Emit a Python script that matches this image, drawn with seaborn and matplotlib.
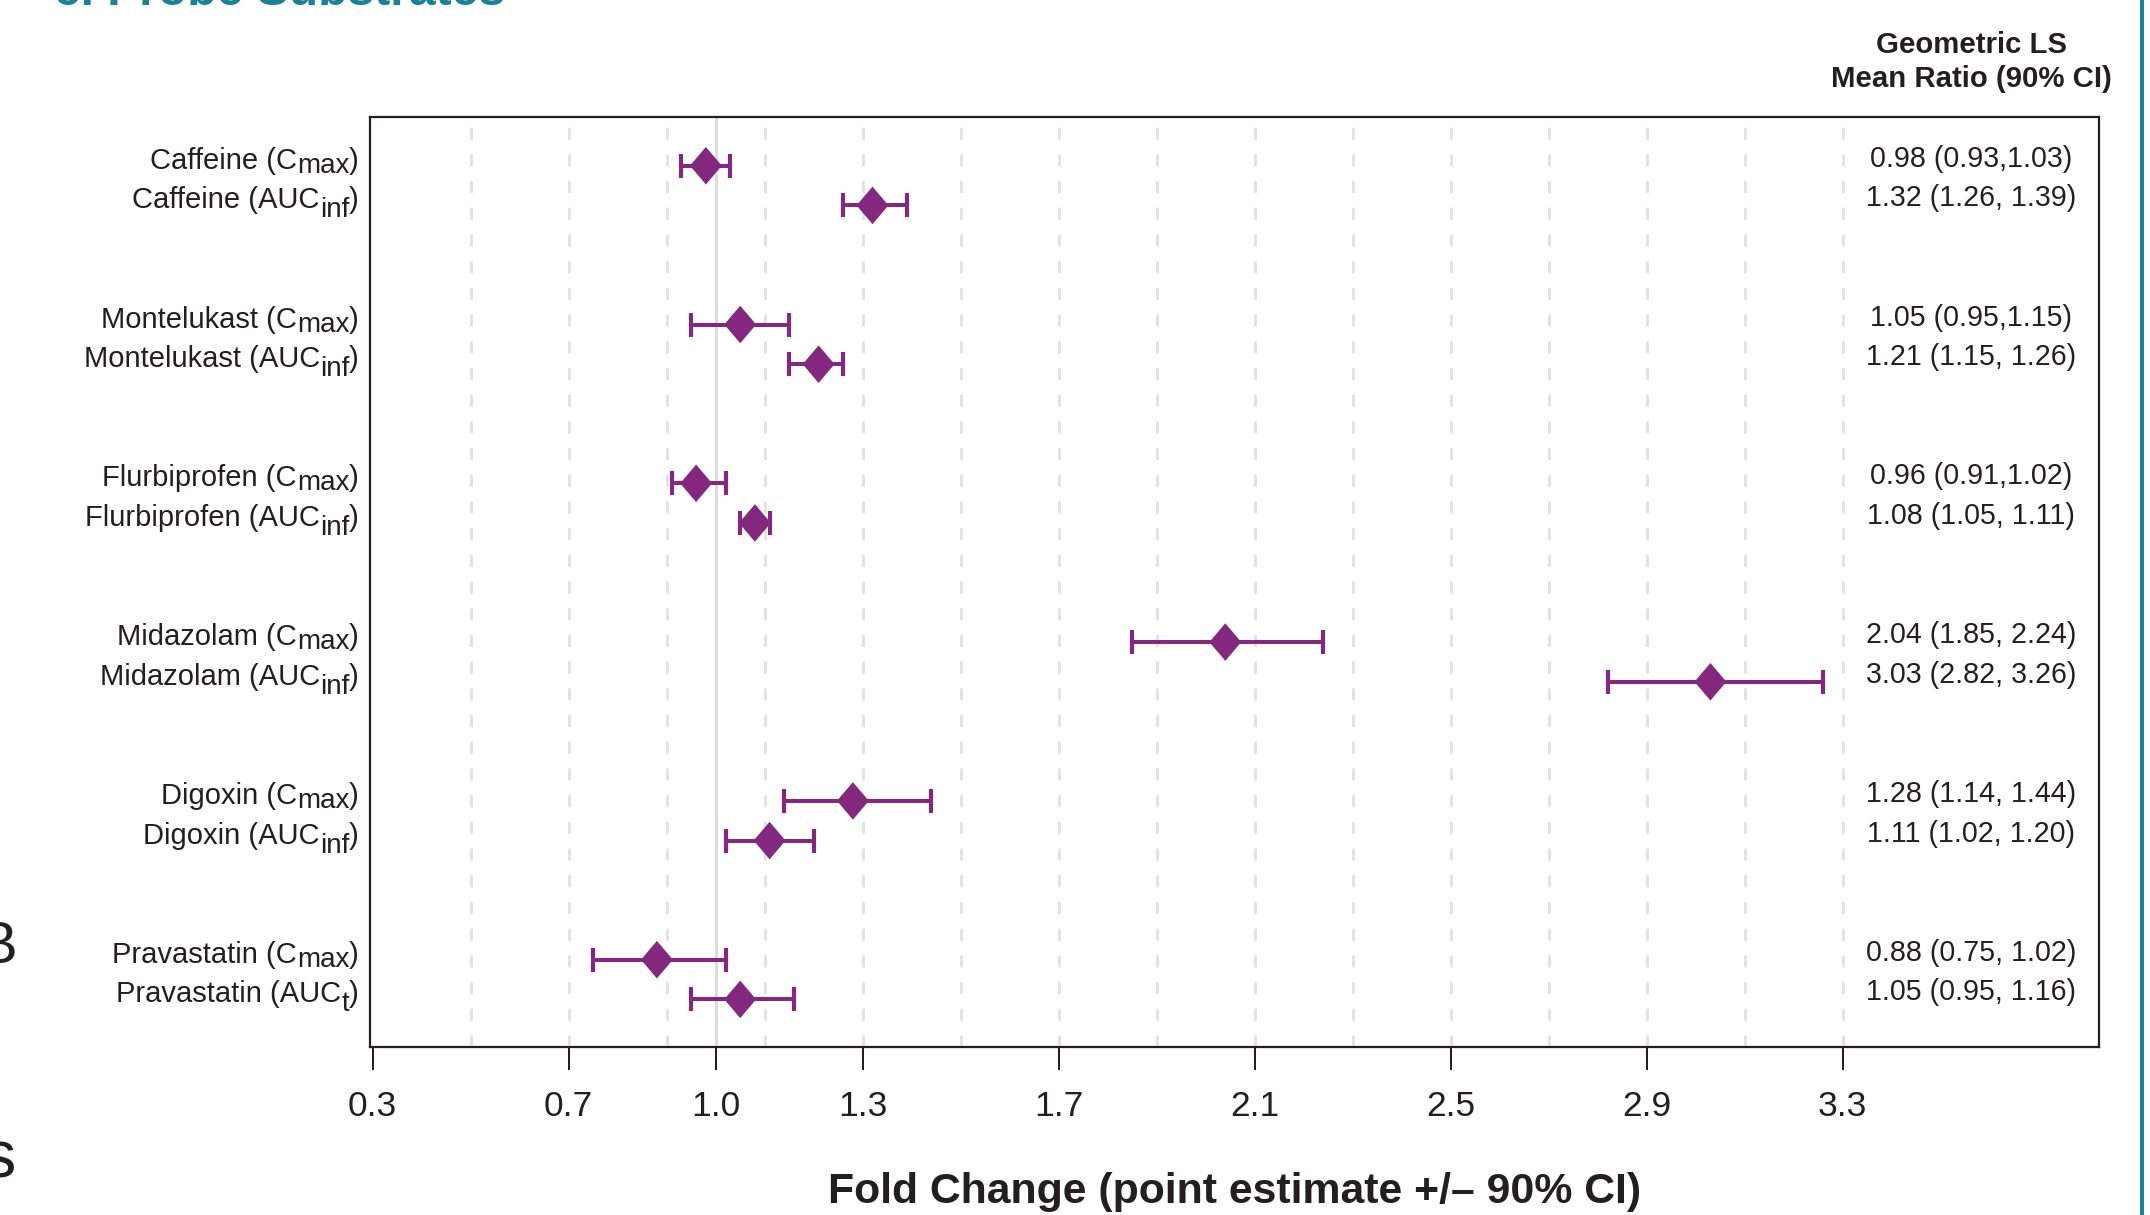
# %%
import pandas as pd
import seaborn as sns
import matplotlib.pyplot as plt
from matplotlib import transforms
from matplotlib.lines import Line2D

# %%
# values
drugs = ['Caffeine', 'Caffeine', 'Montelukast', 'Montelukast', 'Flurbiprofen', 'Flurbiprofen',
         'Midazolam', 'Midazolam', 'Digoxin', 'Digoxin', 'Pravastatin', 'Pravastatin']
param_base = ['C', 'AUC', 'C', 'AUC', 'C', 'AUC', 'C', 'AUC', 'C', 'AUC', 'C', 'AUC']
param_sub = ['max', 'inf', 'max', 'inf', 'max', 'inf', 'max', 'inf', 'max', 'inf', 'max', 't']
ratio = [0.98, 1.32, 1.05, 1.21, 0.96, 1.08, 2.04, 3.03, 1.28, 1.11, 0.88, 1.05]
ci_low = [0.93, 1.26, 0.95, 1.15, 0.91, 1.05, 1.85, 2.82, 1.14, 1.02, 0.75, 0.95]
ci_high = [1.03, 1.39, 1.15, 1.26, 1.02, 1.11, 2.24, 3.26, 1.44, 1.20, 1.02, 1.16]
ci_text = ['0.98 (0.93,1.03)', '1.32 (1.26, 1.39)', '1.05 (0.95,1.15)', '1.21 (1.15, 1.26)',
           '0.96 (0.91,1.02)', '1.08 (1.05, 1.11)', '2.04 (1.85, 2.24)', '3.03 (2.82, 3.26)',
           '1.28 (1.14, 1.44)', '1.11 (1.02, 1.20)', '0.88 (0.75, 1.02)', '1.05 (0.95, 1.16)']
x_ticks = [0.3, 0.7, 1.0, 1.3, 1.7, 2.1, 2.5, 2.9, 3.3]
grid_x = [0.5, 0.7, 0.9, 1.1, 1.3, 1.5, 1.7, 1.9, 2.1, 2.3, 2.5, 2.7, 2.9, 3.1, 3.3]

PURPLE = '#84277f'
TEAL = '#1a8197'
DARK = '#231f20'
W, H = 2150, 1215

df = pd.DataFrame({'drug': drugs, 'base': param_base, 'sub': param_sub,
                   'ratio': ratio, 'lo': ci_low, 'hi': ci_high, 'txt': ci_text})
# two rows per drug, then two empty rows
df['row'] = [(i // 2) * 4 + i % 2 for i in range(len(df))]

# %%
sns.set_theme(style='ticks')
plt.rcParams['font.family'] = ['Liberation Sans', 'DejaVu Sans']
plt.rcParams['text.color'] = DARK

fig = plt.figure(figsize=(W / 100, H / 100), dpi=100)
ax = fig.add_axes([370 / W, 1 - 1047 / H, (2099 - 370) / W, (1047 - 117) / H])

for gx in grid_x:
    ax.axvline(gx, color='#e3e3e3', lw=2.16, dashes=(4, 4.9), zorder=0)
ax.axvline(1.0, color='#dcdcdc', lw=2.2, zorder=0.5)

ax.errorbar(df['ratio'], df['row'], xerr=[df['ratio'] - df['lo'], df['hi'] - df['ratio']],
            fmt='none', ecolor=PURPLE, elinewidth=2.9, capsize=8.6, capthick=3.0, zorder=2)
diamond = [(0, 1), (0.85, 0), (0, -1), (-0.85, 0)]
sns.scatterplot(data=df, x='ratio', y='row', marker=diamond, s=730, color=PURPLE,
                edgecolor='none', linewidth=0, ax=ax, zorder=3, legend=False)

ax.set_xlim(0.2945, 3.823)
ax.set_ylim(22.2, -1.227)
ax.set_xticks(x_ticks)
ax.set_xticklabels([f'{v:.1f}' for v in x_ticks])
ax.set_yticks([])
ax.set_ylabel('')
ax.tick_params(axis='x', length=16.6, width=1.45, pad=14, labelsize=25.5, colors=DARK)
for sp in ax.spines.values():
    sp.set_color(DARK)
    sp.set_linewidth(1.6)

ax.set_xlabel('Fold Change (point estimate +/– 90% CI)', fontsize=30.8, weight='bold', color=DARK)
ax.xaxis.set_label_coords(0.5, -0.1677)
ax.xaxis.label.set_va('baseline')

# %%
# row labels with lowered subscripts, built right to left
fig.canvas.draw()
renderer = fig.canvas.get_renderer()
lab_trans = transforms.blended_transform_factory(fig.transFigure, ax.transData)
lab_fs = 21
x_right = 359 / W
for _, r in df.iterrows():
    drop = 4 if r['sub'] == 'max' else 9
    t1 = ax.text(x_right, r['row'], ')', fontsize=lab_fs, ha='right', va='baseline',
                 transform=transforms.offset_copy(lab_trans, fig, y=-3, units='dots'))
    w1 = t1.get_window_extent(renderer).width
    t2 = ax.text(x_right, r['row'], r['sub'], fontsize=lab_fs * 0.95, ha='right', va='baseline',
                 transform=transforms.offset_copy(lab_trans, fig, x=-w1, y=-3 - drop, units='dots'))
    w2 = t2.get_window_extent(renderer).width
    ax.text(x_right, r['row'], f"{r['drug']} ({r['base']}", fontsize=lab_fs, ha='right', va='baseline',
            transform=transforms.offset_copy(lab_trans, fig, x=-w1 - w2, y=-3, units='dots'))
    ax.text(1971 / W, r['row'], r['txt'], fontsize=20.6, ha='center', va='baseline',
            transform=transforms.offset_copy(lab_trans, fig, y=-1, units='dots'))

fig.text(1971 / W, 1 - 53 / H, 'Geometric LS', fontsize=21.2, weight='bold', ha='center', va='baseline')
fig.text(1971 / W, 1 - 87 / H, 'Mean Ratio (90% CI)', fontsize=21.2, weight='bold', ha='center', va='baseline')

# bits of the surrounding page that show in the crop
fig.text(54 / W, 1 - 5 / H, 'c. Probe Substrates', fontsize=34.6, weight='bold', color=TEAL, va='baseline')
fig.text(17 / W, 1 - 963 / H, 'B', fontsize=43, ha='right', va='baseline')
fig.text(15 / W, 1 - 1178 / H, 's', fontsize=48, ha='right', va='baseline')
fig.add_artist(Line2D([2142 / W, 2142 / W], [0, 1], transform=fig.transFigure, lw=2.9, color=TEAL))

fig.savefig('out.png', dpi=100)
